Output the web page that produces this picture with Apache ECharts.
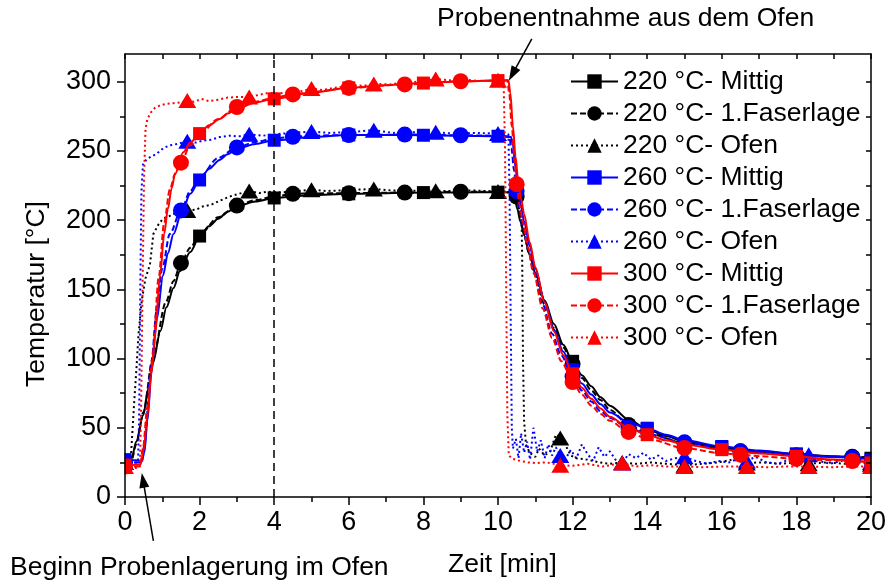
<!DOCTYPE html>
<html>
<head>
<meta charset="utf-8">
<title>Temperaturverlauf</title>
<script src="https://cdn.jsdelivr.net/npm/echarts@6.0.0/dist/echarts.min.js"></script>
<style>
  html, body { margin: 0; padding: 0; background: #ffffff; }
  #chart { width: 889px; height: 583px; }
</style>
</head>
<body>
<div id="chart"></div>
<script>
// ---- axis ticks ----
const xTickValues = [0, 2, 4, 6, 8, 10, 12, 14, 16, 18, 20];
const xTopTickValues = [0, 1, 2, 3, 4, 5, 6, 7, 8, 9, 10, 11, 12, 13, 14, 15, 16, 17, 18, 19, 20];
const yTickValues = [0, 50, 100, 150, 200, 250, 300];
const yMinorTickValues = [25, 75, 125, 175, 225, 275];
const yRightTickValues = [0, 25, 50, 75, 100, 125, 150, 175, 200, 225, 250, 275, 300];

// ---- marker positions along the time axis (min) ----
const squareX = [0, 2, 4, 6, 8, 10, 12, 14, 16, 18, 20];
const circleX = [0, 1.5, 3, 4.5, 6, 7.5, 9, 10.5, 12, 13.5, 15, 16.5, 18, 19.5];
const triangleX = [0, 1.67, 3.33, 5, 6.67, 8.33, 10, 11.67, 13.33, 15, 16.67, 18.33, 20];

// ---- measured curves: [Zeit (min), Temperatur (°C)] ----
const c220Mittig = [[0,26],[0.18,28],[0.3,40],[0.49,59],[0.62,78],[0.75,97],[0.95,120],[1.11,137],[1.3,151],[1.47,163],[1.75,177],[2,188.5],[2.25,195.5],[2.5,201],[2.75,206],[3,210],[3.5,213.5],[4,216],[5,218],[6,219],[7,219.5],[8,219.9],[9,220],[10,220.2],[10.4,220],[10.45,216],[10.52,208],[10.6,199],[10.7,189],[10.85,175],[11,162],[11.25,142],[11.5,125],[11.75,110],[12,98],[12.25,88],[12.5,80],[12.75,72],[13,66],[13.5,56],[14,49],[14.5,44],[15,40],[16,36],[17,33],[18,31],[19,29.5],[20,28]];

const c220Faser = [[0,25],[0.18,27],[0.3,38],[0.49,61],[0.75,101],[1.1,141],[1.3,156],[1.5,169],[1.75,180],[2,189.5],[2.5,202],[3,210.5],[3.5,214.5],[4,217],[4.5,219],[5,219.3],[6,219.5],[7.5,219.9],[9,220.5],[10,220.5],[10.38,220],[10.5,217],[10.58,207],[10.68,193],[10.82,177],[11,160],[11.25,139],[11.5,122],[11.75,108],[12,96],[12.25,86],[12.5,77],[12.75,70],[13,63],[13.5,52],[14,46],[15,39],[16,35],[16.5,33],[17,32],[18,30],[19,29],[19.5,29],[20,28.5]];

const c220Ofen = [[0,25],[0.15,25],[0.18,39],[0.25,70],[0.31,94],[0.36,117],[0.45,142],[0.55,158],[0.67,168],[0.76,190],[0.9,197],[1.02,201],[1.2,203],[1.4,206],[1.67,207],[1.9,207.5],[2.1,210],[2.3,211],[2.54,214],[2.8,217],[3.05,219],[3.33,221],[3.6,219.5],[3.8,220.5],[4.2,220],[4.6,221],[5,222],[5.4,221],[5.8,221.5],[6.2,222],[6.67,222.5],[7.1,221.5],[7.6,221],[8,221.5],[8.33,221.2],[8.8,221],[9.3,221.5],[9.7,221],[10,220.7],[10.4,220.5],[10.62,220],[10.65,170],[10.67,100],[10.7,55],[10.75,38],[10.85,32],[11,29],[11.1,35],[11.25,30],[11.4,33],[11.55,45],[11.67,42.6],[11.8,38],[11.95,30],[12.1,28],[12.4,27],[12.7,25],[13,24],[13.33,25],[13.7,24],[14.1,25],[14.5,24],[15,23],[15.5,24],[15.9,25],[16.3,27],[16.67,24.6],[17.1,25],[17.6,24],[18,25],[18.33,24],[18.8,25],[19.3,24],[19.7,25],[20,23.7]];

const c260Mittig = [[0,27],[0.3,26.5],[0.45,26],[0.52,32],[0.6,55],[0.71,90],[0.85,128],[1.02,160],[1.15,176],[1.3,190],[1.52,206],[1.75,219],[2,229],[2.25,237],[2.54,243.5],[2.75,247.5],[3,251.5],[3.5,255],[4,257.7],[5,260],[6,261.5],[7,261.5],[8,261.3],[9,261],[10,260.6],[10.35,260],[10.4,254],[10.47,238],[10.54,222],[10.62,209],[10.7,199],[10.85,181],[11,165],[11.25,141],[11.5,121],[11.75,105],[12,92],[12.25,82],[12.5,74],[12.75,67],[13,61],[13.5,54],[14,49.7],[14.5,45],[15,41],[16,36.5],[17,33.5],[18,31],[19,29],[20,27]];

const c260Faser = [[0,25],[0.45,25],[0.52,38],[0.7,95],[0.85,135],[1,165],[1.2,190],[1.5,207],[1.75,221],[2,231],[2.5,245],[3,252.5],[3.5,256.5],[4,259],[4.5,260.2],[5,261],[6,261.5],[7.5,261.8],[9,261.3],[10,261],[10.3,260.5],[10.36,252],[10.43,236],[10.5,221],[10.58,207],[10.66,196],[10.8,180],[10.95,164],[11.2,139],[11.45,118],[11.7,102],[12,87],[12.25,77],[12.5,69],[12.75,62],[13,57],[13.5,50],[14,45.5],[15,39.5],[16,35],[16.5,33],[17,32],[18,30],[19,29],[19.5,28.5],[20,28]];

const c260Ofen = [[0,25],[0.35,25],[0.38,60],[0.41,150],[0.44,220],[0.48,240],[0.58,244],[0.71,246],[0.85,248],[1.03,252],[1.2,254],[1.4,255],[1.67,257],[1.9,256],[2.1,257.5],[2.3,258],[2.54,260],[2.8,261],[3.05,260.5],[3.33,262],[3.7,261],[4,262],[4.5,263],[5,264],[5.5,263],[6,263.5],[6.67,265],[7.2,263],[7.7,263.5],[8.33,263.5],[8.8,262.5],[9.4,263],[10,262.5],[10.28,262],[10.31,220],[10.34,130],[10.37,50],[10.4,35],[10.48,42],[10.55,28],[10.62,46],[10.7,32],[10.78,40],[10.86,27],[10.95,50],[11.05,33],[11.15,41],[11.25,28],[11.35,38],[11.45,30],[11.55,36],[11.67,30],[11.8,27],[11.95,34],[12.1,28],[12.25,38],[12.4,31],[12.55,26],[12.7,36],[12.85,29],[13,33],[13.15,27],[13.33,24.5],[13.5,31],[13.7,28],[13.9,32],[14.1,27],[14.3,30],[14.5,26],[14.75,28],[15,29],[15.3,26],[15.6,24],[15.9,26],[16.2,25],[16.45,28],[16.67,26],[16.9,29],[17.2,25],[17.5,24],[17.8,27],[18.05,28],[18.33,30.6],[18.6,26],[18.9,24],[19.2,26],[19.5,24],[19.75,27],[20,25]];

const c300Mittig = [[0,23],[0.42,23.5],[0.5,34],[0.6,58],[0.7,88],[0.8,115],[0.94,160],[1.05,190],[1.15,208],[1.25,223],[1.34,233],[1.56,249],[1.75,256],[2,262.5],[2.25,268.5],[2.54,273],[2.75,277],[3,280.5],[3.5,285],[4,287.6],[5,292],[6,295.5],[7,297.5],[8,299],[9,300.2],[10,300.8],[10.28,301],[10.33,292],[10.4,268],[10.47,246],[10.54,229],[10.62,215],[10.7,204.5],[10.85,184],[11,166],[11.25,140.6],[11.5,119.6],[11.75,102.5],[12,89],[12.25,79],[12.5,71],[12.75,64],[13,58],[13.5,50],[14,45],[14.5,41],[15,38],[16,34.2],[17,31.5],[18,29.4],[19,27],[20,24.6]];

const c300Faser = [[0,22],[0.4,22],[0.48,35],[0.6,65],[0.74,100],[0.9,158],[1.05,198],[1.2,222],[1.35,234],[1.5,241.5],[1.75,254],[2,262],[2.5,273],[3,281.7],[3.5,285.5],[4,288.5],[4.5,290.8],[5,292.5],[6,295.5],[7.5,298],[9,300.3],[10,300.8],[10.25,301],[10.3,292],[10.37,268],[10.44,245],[10.5,226],[10.58,211],[10.66,199],[10.8,180],[10.95,162],[11.2,136],[11.45,115],[11.7,98],[12,83],[12.25,74],[12.5,66],[12.75,60],[13,55],[13.5,47],[14,42],[15,35.4],[16,31.5],[16.5,30.6],[17,29.5],[18,27.5],[19,26.5],[19.5,26],[20,25.5]];

const c300Ofen = [[0,22],[0.3,21],[0.4,22],[0.43,60],[0.47,150],[0.51,230],[0.55,266],[0.6,273],[0.7,278],[0.8,281],[0.95,283],[1.1,284],[1.3,284.5],[1.5,285],[1.67,286.4],[1.85,285.5],[2.05,287.5],[2.25,286],[2.5,287],[2.75,288.5],[3.05,289],[3.33,289],[3.6,290.5],[3.85,292],[4.1,291.5],[4.4,292.5],[4.7,293],[5,295],[5.3,294],[5.7,296],[6.1,297.5],[6.4,297],[6.67,298.4],[7.1,298],[7.5,299.5],[7.9,300],[8.33,302],[8.7,301],[9.1,301.5],[9.5,300.5],[10,301],[10.15,300.5],[10.19,250],[10.22,150],[10.25,60],[10.29,30],[10.4,27.5],[10.6,26],[10.8,25],[11,24.5],[11.3,25],[11.67,23],[12,22.5],[12.4,24],[12.8,22],[13.33,24.5],[13.7,22],[14.1,23],[14.5,22],[15,22],[15.5,21.5],[16,22],[16.67,22],[17.2,21.5],[17.7,22],[18.33,22],[18.9,21.5],[19.5,22],[20,22]];

// ---- annotation anchors (data coordinates the arrows point at) ----
const startPoint = [0.45, 17.4];
const removalPoint = [10.29, 300.6];

const FONT = '"Liberation Sans", Arial, Helvetica, sans-serif';
const BLACK = '#000000', BLUE = '#0000ff', RED = '#ff0000';

const SOLID = 'solid';
const DASHED = [6, 3];
const DOTTED = [2, 3];

const seriesDefs = [
  { name: '220 °C- Mittig',      curve: c220Mittig, marks: squareX,   color: BLACK, symbol: 'rect',     size: 13,       dash: SOLID },
  { name: '220 °C- 1.Faserlage', curve: c220Faser,  marks: circleX,   color: BLACK, symbol: 'circle',   size: 16,       dash: DASHED },
  { name: '220 °C- Ofen',        curve: c220Ofen,   marks: triangleX, color: BLACK, symbol: 'triangle', size: [18, 15], dash: DOTTED },
  { name: '260 °C- Mittig',      curve: c260Mittig, marks: squareX,   color: BLUE,  symbol: 'rect',     size: 13,       dash: SOLID },
  { name: '260 °C- 1.Faserlage', curve: c260Faser,  marks: circleX,   color: BLUE,  symbol: 'circle',   size: 16,       dash: DASHED },
  { name: '260 °C- Ofen',        curve: c260Ofen,   marks: triangleX, color: BLUE,  symbol: 'triangle', size: [18, 15], dash: DOTTED },
  { name: '300 °C- Mittig',      curve: c300Mittig, marks: squareX,   color: RED,   symbol: 'rect',     size: 13,       dash: SOLID },
  { name: '300 °C- 1.Faserlage', curve: c300Faser,  marks: circleX,   color: RED,   symbol: 'circle',   size: 16,       dash: DASHED },
  { name: '300 °C- Ofen',        curve: c300Ofen,   marks: triangleX, color: RED,   symbol: 'triangle', size: [18, 15], dash: DOTTED }
];

// Only the sampled points listed in `marks` get a symbol; the rest just shape the line.
function buildData(curve, marks) {
  return curve.map(function (p) {
    const item = { value: [p[0], p[1]] };
    if (marks.indexOf(p[0]) < 0) item.symbol = 'none';
    return item;
  });
}

const series = seriesDefs.map(function (d, i) {
  const s = {
    type: 'line',
    name: d.name,
    data: buildData(d.curve, d.marks),
    symbol: d.symbol,
    symbolSize: d.size,
    showSymbol: true,
    showAllSymbol: true,
    smooth: d.dash === DOTTED ? false : 0.3,
    smoothMonotone: 'x',
    clip: true,
    lineStyle: { color: d.color, width: 2, type: d.dash, cap: 'butt' },
    itemStyle: { color: d.color, borderWidth: 0 },
    emphasis: { disabled: true },
    silent: true,
    z: 2 + i * 0.01
  };
  if (i === 0) {
    s.markLine = {
      silent: true,
      symbol: 'none',
      label: { show: false },
      lineStyle: { color: BLACK, width: 1.5, type: [8, 5] },
      data: [{ xAxis: 4 }]
    };
  }
  return s;
});

const axisLine = { show: true, onZero: false, lineStyle: { color: BLACK, width: 1.5 } };
const tickStyle = { color: BLACK, width: 1.5 };
const labelStyle = { color: BLACK, fontFamily: FONT, fontSize: 27 };

const option = {
  animation: false,
  backgroundColor: '#ffffff',
  textStyle: { fontFamily: FONT },
  grid: { left: 125, right: 16, top: 54, bottom: 82, containLabel: false },
  legend: {
    orient: 'vertical',
    left: 570,
    top: 68,
    padding: 0,
    itemWidth: 47,
    itemHeight: 18,
    itemGap: 5,
    selectedMode: false,
    textStyle: { color: BLACK, fontFamily: FONT, fontSize: 26.5, lineHeight: 26 },
    data: seriesDefs.map(function (d) { return d.name; })
  },
  xAxis: [
    {
      type: 'value', position: 'bottom', min: 0, max: 20, interval: 2, z: 10,
      axisLine: axisLine,
      axisTick: { show: true, inside: false, length: 8, lineStyle: tickStyle, customValues: xTickValues },
      minorTick: { show: true, splitNumber: 2, length: 5, lineStyle: tickStyle },
      axisLabel: Object.assign({ margin: 12, customValues: xTickValues }, labelStyle),
      splitLine: { show: false },
      name: 'Zeit [min]',
      nameLocation: 'middle',
      nameGap: 54,
      nameTextStyle: { color: BLACK, fontFamily: FONT, fontSize: 26.5, padding: [0, 0, 0, 9] }
    },
    {
      type: 'value', position: 'top', min: 0, max: 20, z: 10,
      axisLine: axisLine,
      axisTick: { show: true, inside: true, length: 5, lineStyle: tickStyle, customValues: xTopTickValues },
      axisLabel: { show: false },
      splitLine: { show: false }
    }
  ],
  yAxis: [
    {
      type: 'value', position: 'left', min: 0, max: 320, z: 10,
      axisLine: axisLine,
      axisTick: { show: true, inside: false, length: 8, lineStyle: tickStyle, customValues: yTickValues },
      axisLabel: Object.assign({ margin: 14, customValues: yTickValues }, labelStyle),
      splitLine: { show: false }
    },
    {
      type: 'value', position: 'right', min: 0, max: 320, z: 10,
      axisLine: axisLine,
      axisTick: { show: true, inside: true, length: 5, lineStyle: tickStyle, customValues: yRightTickValues },
      axisLabel: { show: false },
      splitLine: { show: false }
    },
    {
      type: 'value', position: 'left', min: 0, max: 320, z: 10,
      axisLine: { show: false },
      axisTick: { show: true, inside: false, length: 5, lineStyle: tickStyle, customValues: yMinorTickValues },
      axisLabel: { show: false },
      splitLine: { show: false }
    }
  ],
  series: series
};

const chart = echarts.init(document.getElementById('chart'), null, { renderer: 'canvas' });
chart.setOption(option);

// Arrow from a tail offset (pixels) to a tip given in data coordinates.
function arrow(id, dataTip, dx, dy) {
  const tip = chart.convertToPixel({ gridIndex: 0 }, dataTip);
  const tail = [tip[0] + dx, tip[1] + dy];
  const len = Math.hypot(tip[0] - tail[0], tip[1] - tail[1]);
  const ux = (tip[0] - tail[0]) / len, uy = (tip[1] - tail[1]) / len;
  const headL = 15, headW = 5;
  const bx = tip[0] - ux * headL, by = tip[1] - uy * headL;
  return [
    { type: 'line', id: id + '-shaft', z: 30, silent: true,
      shape: { x1: tail[0], y1: tail[1], x2: bx + ux * 2, y2: by + uy * 2 },
      style: { stroke: BLACK, lineWidth: 1.5 } },
    { type: 'polygon', id: id + '-head', z: 30, silent: true,
      shape: { points: [tip, [bx - uy * headW, by + ux * headW], [bx + uy * headW, by - ux * headW]] },
      style: { fill: BLACK } }
  ];
}

const gridRect = {
  left: chart.convertToPixel({ gridIndex: 0 }, [0, 0])[0],
  right: chart.convertToPixel({ gridIndex: 0 }, [20, 0])[0]
};

const graphics = [
  // keep markers sitting on the frame from spilling outside it
  { type: 'rect', id: 'mask-left', z: 5, silent: true,
    shape: { x: 0, y: 30, width: gridRect.left - 0.5, height: 480 }, style: { fill: '#ffffff' } },
  { type: 'rect', id: 'mask-right', z: 5, silent: true,
    shape: { x: gridRect.right + 0.5, y: 30, width: 889 - gridRect.right, height: 480 }, style: { fill: '#ffffff' } },
  { type: 'text', id: 'ytitle', z: 30, silent: true, x: 37, y: 294, rotation: Math.PI / 2,
    style: { text: 'Temperatur [°C]', font: '26.5px ' + FONT, fill: BLACK, textAlign: 'center', textVerticalAlign: 'middle' } },
  { type: 'text', id: 'note-removal', z: 30, silent: true, x: 437, y: 19,
    style: { text: 'Probenentnahme aus dem Ofen', font: '26.5px ' + FONT, fill: BLACK, textAlign: 'left', textVerticalAlign: 'middle' } },
  { type: 'text', id: 'note-start', z: 30, silent: true, x: 10, y: 568,
    style: { text: 'Beginn Probenlagerung im Ofen', font: '26.5px ' + FONT, fill: BLACK, textAlign: 'left', textVerticalAlign: 'middle' } }
].concat(arrow('arrow-removal', removalPoint, 23, -42))
 .concat(arrow('arrow-start', startPoint, 11.6, 68));

chart.setOption({ graphic: graphics });
</script>
</body>
</html>
